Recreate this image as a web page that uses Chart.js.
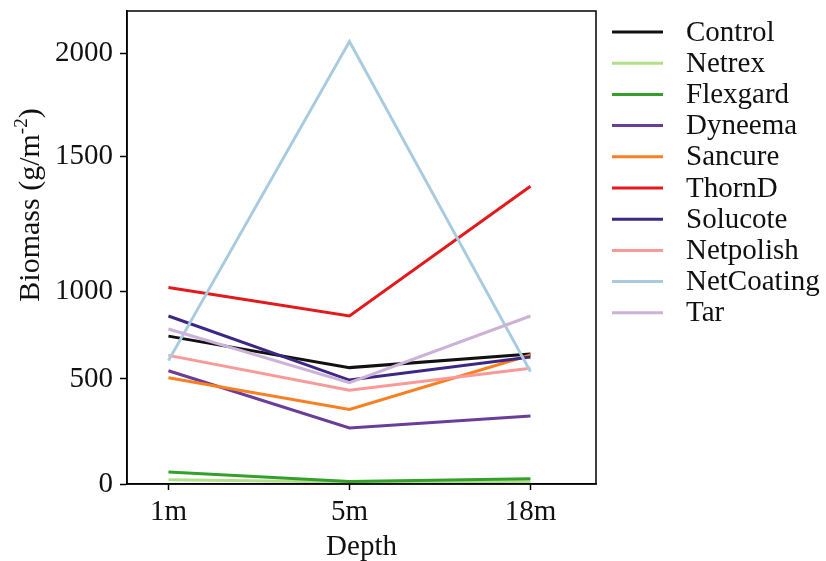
<!DOCTYPE html>
<html>
<head>
<meta charset="utf-8">
<title>Biomass by depth</title>
<script src="https://cdn.jsdelivr.net/npm/chart.js@4/dist/chart.umd.min.js"></script>
<style>
  html, body { margin: 0; padding: 0; background: #fff; }
  #wrap { width: 826px; height: 561px; }
</style>
</head>
<body>
<div id="wrap"><canvas id="chart" width="826" height="561"></canvas></div>
<script>
// depths sampled
const depths = ['1m', '5m', '18m'];

// biomass (g/m-2) per net treatment, one value per depth
const control    = [745, 565, 643];
const netrex     = [20, 9, 12];
const flexgard   = [57, 12, 25];
const dyneema    = [547, 267, 324];
const sancure    = [507, 355, 637];
const thornD     = [1015, 860, 1390];
const solucote   = [860, 495, 626];
const netpolish  = [635, 447, 561];
const netCoating = [605, 2056, 542];
const tar        = [786, 482, 860];

// y axis tick labels and where each one sits (fraction of the axis height, from the bottom)
const yTicks    = [0, 500, 1000, 1500, 2000];
const yTickFrac = [0, 0.222, 0.407, 0.692, 0.911];
const yMax = 2205;

const FONT = "'Liberation Serif', 'Times New Roman', serif";

// --- axis with uneven spacing between the labelled values ---
class SegmentedScale extends Chart.LinearScale {
  static id = 'segmented';
  static defaults = Chart.LinearScale.defaults;

  _frac(value) {
    const v = +value;
    const stops = yTicks.concat([yMax]);
    const fr = yTickFrac.concat([1]);
    if (v <= stops[0]) return fr[0];
    for (let i = 1; i < stops.length; i++) {
      if (v <= stops[i]) {
        return fr[i - 1] + (v - stops[i - 1]) / (stops[i] - stops[i - 1]) * (fr[i] - fr[i - 1]);
      }
    }
    return 1;
  }
  getPixelForValue(value) {
    return this.bottom - this._frac(value) * (this.bottom - this.top);
  }
  getValueForPixel(pixel) {
    const f = (this.bottom - pixel) / (this.bottom - this.top);
    const stops = yTicks.concat([yMax]);
    const fr = yTickFrac.concat([1]);
    for (let i = 1; i < fr.length; i++) {
      if (f <= fr[i]) {
        return stops[i - 1] + (f - fr[i - 1]) / (fr[i] - fr[i - 1]) * (stops[i] - stops[i - 1]);
      }
    }
    return yMax;
  }
}
Chart.register(SegmentedScale);

const series = [
  { label: 'Control',    data: control,    color: '#111111' },
  { label: 'Netrex',     data: netrex,     color: '#b2df8a' },
  { label: 'Flexgard',   data: flexgard,   color: '#33a02c' },
  { label: 'Dyneema',    data: dyneema,    color: '#6a3d9a' },
  { label: 'Sancure',    data: sancure,    color: '#f98022' },
  { label: 'ThornD',     data: thornD,     color: '#e31a1c' },
  { label: 'Solucote',   data: solucote,   color: '#3d2785' },
  { label: 'Netpolish',  data: netpolish,  color: '#f99a98' },
  { label: 'NetCoating', data: netCoating, color: '#a9cbe0' },
  { label: 'Tar',        data: tar,        color: '#cdb2d8' }
];

const datasets = series.map((s, i) => ({
  label: s.label,
  data: s.data.map((v, j) => ({ x: j, y: v })),
  borderColor: s.color,
  backgroundColor: s.color,
  borderWidth: 3,
  pointRadius: 0,
  tension: 0,
  order: series.length - i   // later series drawn on top
}));

// frame round the plotting area
const frame = {
  id: 'frame',
  afterDraw(chart) {
    const { ctx, chartArea: a } = chart;
    ctx.save();
    ctx.strokeStyle = '#000';
    ctx.lineWidth = 1.5;
    ctx.strokeRect(a.left, a.top, a.right - a.left, a.bottom - a.top);
    ctx.restore();
  }
};

// y title with a superscript unit
const yTitle = {
  id: 'yTitle',
  afterDraw(chart) {
    const ctx = chart.ctx;
    const big = '30px ' + FONT, small = '19px ' + FONT;
    const parts = [['Biomass (g/m', big, 0], ['-2', small, -9], [')', big, 0]];
    ctx.save();
    ctx.translate(31, 205);
    ctx.rotate(-Math.PI / 2);
    ctx.fillStyle = '#111';
    ctx.textBaseline = 'middle';
    ctx.textAlign = 'left';
    let total = 0;
    parts.forEach(p => { ctx.font = p[1]; total += ctx.measureText(p[0]).width; });
    let x = -total / 2;
    parts.forEach(p => {
      ctx.font = p[1];
      ctx.fillText(p[0], x, p[2]);
      x += ctx.measureText(p[0]).width;
    });
    ctx.restore();
  }
};

// legend column to the right of the plot
const sideLegend = {
  id: 'sideLegend',
  afterDraw(chart) {
    const ctx = chart.ctx;
    ctx.save();
    ctx.font = '29px ' + FONT;
    ctx.textBaseline = 'middle';
    ctx.textAlign = 'left';
    series.forEach((s, i) => {
      const y = 32 + i * 31.2;
      ctx.strokeStyle = s.color;
      ctx.lineWidth = 3;
      ctx.beginPath();
      ctx.moveTo(612, y);
      ctx.lineTo(663, y);
      ctx.stroke();
      ctx.fillStyle = '#111';
      ctx.fillText(s.label, 686, y + 1);
    });
    ctx.restore();
  }
};

// keep the plot edges where they are set, without room for edge labels
const noEdgePadding = scale => {
  scale.paddingTop = 0;
  scale.paddingBottom = 0;
  scale.paddingLeft = 0;
  scale.paddingRight = 0;
};

new Chart(document.getElementById('chart'), {
  type: 'line',
  data: { datasets },
  plugins: [frame, yTitle, sideLegend],
  options: {
    responsive: false,
    animation: false,
    layout: { padding: { top: 11, right: 230, bottom: 0, left: 0 } },
    plugins: {
      legend: { display: false },
      tooltip: { enabled: false }
    },
    scales: {
      x: {
        type: 'linear',
        min: -0.229,
        max: 2.362,
        afterBuildTicks: scale => { scale.ticks = depths.map((_, i) => ({ value: i })); },
        afterFit: scale => { scale.height = 77; noEdgePadding(scale); },
        ticks: {
          autoSkip: false,
          maxRotation: 0,
          padding: 5,
          color: '#111',
          font: { family: FONT, size: 29 },
          callback: v => depths[v]
        },
        grid: { drawOnChartArea: false, drawTicks: true, tickLength: 6, tickColor: '#000', tickWidth: 1.5 },
        border: { display: true, color: '#000', width: 1.5 },
        title: {
          display: true,
          text: 'Depth',
          color: '#111',
          font: { family: FONT, size: 29 },
          padding: { top: 0, bottom: -4 }
        }
      },
      y: {
        type: 'segmented',
        min: 0,
        max: yMax,
        afterBuildTicks: scale => { scale.ticks = yTicks.map(v => ({ value: v })); },
        afterFit: scale => { scale.width = 127; noEdgePadding(scale); },
        ticks: {
          autoSkip: false,
          padding: 7,
          color: '#111',
          font: { family: FONT, size: 29 },
          callback: v => String(v)
        },
        grid: { drawOnChartArea: false, drawTicks: true, tickLength: 7, tickColor: '#000', tickWidth: 1.5 },
        border: { display: true, color: '#000', width: 1.5 }
      }
    }
  }
});
</script>
</body>
</html>
